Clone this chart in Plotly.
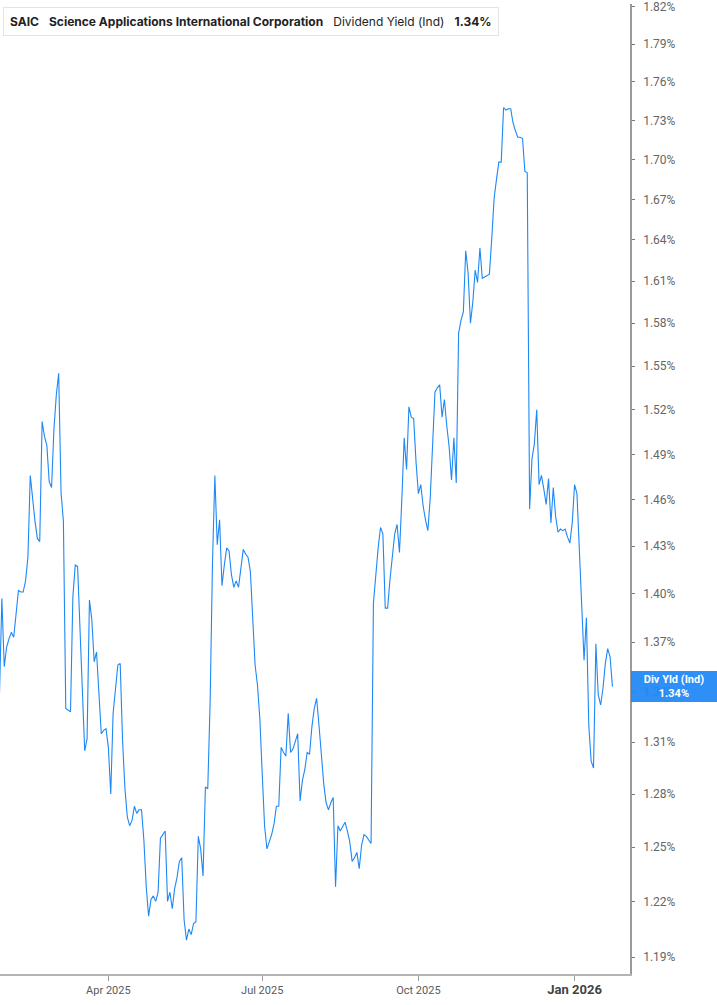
import math
import pandas as pd
import plotly.graph_objects as go

# ---- data ----
START_DATE = "2025-01-27"
END_DATE = "2026-01-23"

# one value per weekday (Mon..Fri), week by week
div_yield_pct = [
    1.339, 1.397, 1.355, 1.367, 1.372,   # Jan 27
    1.376, 1.373, 1.387, 1.402, 1.401,   # Feb 3
    1.401, 1.408, 1.423, 1.476, 1.459,   # Feb 10
    1.446, 1.435, 1.433, 1.512, 1.502,   # Feb 17
    1.496, 1.472, 1.468, 1.507, 1.530,   # Feb 24
    1.545, 1.465, 1.446, 1.330, 1.329,   # Mar 3
    1.328, 1.398, 1.418, 1.417, 1.380,   # Mar 10
    1.334, 1.305, 1.312, 1.396, 1.384,   # Mar 17
    1.358, 1.364, 1.338, 1.315, 1.317,   # Mar 24
    1.318, 1.307, 1.280, 1.327, 1.340,   # Mar 31
    1.356, 1.357, 1.311, 1.283, 1.267,   # Apr 7
    1.262, 1.265, 1.273, 1.269, 1.271,   # Apr 14
    1.271, 1.254, 1.228, 1.212, 1.221,   # Apr 21
    1.223, 1.220, 1.225, 1.255, 1.257,   # Apr 28
    1.259, 1.220, 1.225, 1.216, 1.227,   # May 5
    1.233, 1.242, 1.244, 1.210, 1.199,   # May 12
    1.205, 1.202, 1.208, 1.209, 1.256,   # May 19
    1.249, 1.234, 1.284, 1.283, 1.334,   # May 26
    1.420, 1.476, 1.431, 1.447, 1.405,   # Jun 2
    1.418, 1.429, 1.427, 1.412, 1.404,   # Jun 9
    1.408, 1.404, 1.417, 1.428, 1.425,   # Jun 16
    1.423, 1.414, 1.385, 1.356, 1.344,   # Jun 23
    1.324, 1.292, 1.262, 1.249, 1.253,   # Jun 30
    1.257, 1.263, 1.273, 1.273, 1.307,   # Jul 7
    1.304, 1.302, 1.327, 1.304, 1.306,   # Jul 14
    1.311, 1.315, 1.276, 1.288, 1.294,   # Jul 21
    1.304, 1.303, 1.319, 1.330, 1.336,   # Jul 28
    1.320, 1.303, 1.286, 1.275, 1.271,   # Aug 4
    1.275, 1.278, 1.228, 1.262, 1.259,   # Aug 11
    1.262, 1.264, 1.259, 1.253, 1.242,   # Aug 18
    1.244, 1.247, 1.238, 1.251, 1.257,   # Aug 25
    1.256, 1.254, 1.252, 1.394, 1.412,   # Sep 1
    1.429, 1.442, 1.438, 1.391, 1.391,   # Sep 8
    1.409, 1.426, 1.438, 1.444, 1.426,   # Sep 15
    1.460, 1.501, 1.480, 1.522, 1.515,   # Sep 22
    1.514, 1.485, 1.464, 1.470, 1.456,   # Sep 29
    1.447, 1.440, 1.461, 1.495, 1.532,   # Oct 6
    1.535, 1.537, 1.515, 1.527, 1.509,   # Oct 13
    1.495, 1.473, 1.501, 1.471, 1.573,   # Oct 20
    1.582, 1.588, 1.632, 1.616, 1.580,   # Oct 27
    1.595, 1.618, 1.609, 1.634, 1.612,   # Nov 3
    1.613, 1.614, 1.615, 1.641, 1.671,   # Nov 10
    1.685, 1.698, 1.698, 1.740, 1.738,   # Nov 17
    1.739, 1.739, 1.728, 1.722, 1.717,   # Nov 24
    1.717, 1.716, 1.691, 1.690, 1.454,   # Dec 1
    1.487, 1.497, 1.520, 1.470, 1.476,   # Dec 8
    1.467, 1.457, 1.474, 1.445, 1.468,   # Dec 15
    1.449, 1.439, 1.441, 1.440, 1.441,   # Dec 22
    1.436, 1.432, 1.445, 1.470, 1.464,   # Dec 29
    1.431, 1.395, 1.359, 1.385, 1.320,   # Jan 5
    1.299, 1.295, 1.369, 1.338, 1.332,   # Jan 12
    1.342, 1.357, 1.366, 1.361, 1.343,   # Jan 19
]

y_tick_values = [1.19, 1.22, 1.25, 1.28, 1.31, 1.34, 1.37, 1.40, 1.43, 1.46, 1.49,
                 1.52, 1.55, 1.58, 1.61, 1.64, 1.67, 1.70, 1.73, 1.76, 1.79, 1.82]
x_tick_dates = ["2025-04-01", "2025-07-01", "2025-10-01", "2026-01-01"]
x_tick_labels = ["Apr 2025", "Jul 2025", "Oct 2025",
                 "<span style='font-size:13px;color:#444444'><b>Jan 2026</b></span>"]

ticker = "SAIC"
company = "Science Applications International Corporation"
metric = "Dividend Yield (Ind)"
short_metric = "Div Yld (Ind)"
last_value = div_yield_pct[-1]

dates = pd.bdate_range(START_DATE, END_DATE)

LINE_BLUE = "#1e88f5"

fig = go.Figure()
fig.add_trace(go.Scatter(
    x=dates, y=div_yield_pct, mode="lines",
    line=dict(color=LINE_BLUE, width=1.1),
    hoverinfo="skip", showlegend=False,
))

fig.update_layout(
    width=717, height=1005,
    margin=dict(l=0, r=87, t=0, b=31),
    paper_bgcolor="white", plot_bgcolor="white",
    font=dict(family="Roboto, Arial, sans-serif", color="#555555"),
    showlegend=False,
    xaxis=dict(
        type="date",
        range=["2025-01-27 05:00", "2026-02-03 10:00"],
        rangebreaks=[dict(bounds=["sat", "mon"])],
        tickvals=x_tick_dates, ticktext=x_tick_labels,
        showgrid=False, zeroline=False,
        showline=True, linecolor="#b4b4b4", linewidth=2,
        ticks="outside", ticklen=5, tickcolor="#9a9a9a", tickwidth=1,
        tickfont=dict(size=11, color="#5a5a5a", family="Roboto, Arial, sans-serif"),
    ),
    yaxis=dict(
        type="log", side="right",
        range=[0.072258, 0.260651],
        tickvals=y_tick_values,
        ticktext=[f"{v:.2f}%" for v in y_tick_values],
        showgrid=False, zeroline=False,
        showline=True, linecolor="#9a9a9a", linewidth=1.5,
        ticks="outside", ticklen=3, tickcolor="#777777",
        ticklabelstandoff=6, ticklabeloverflow="allow",
        tickfont=dict(size=12, color="#666666", family="Roboto, Arial, sans-serif"),
    ),
)

# header box
fig.add_annotation(
    xref="paper", yref="paper", x=3 / 630, y=1 - 3 / 974,
    xanchor="left", yanchor="top",
    text=(f"<b>{ticker}</b>&nbsp;&nbsp;&nbsp;<b>{company}</b>&nbsp;&nbsp;&nbsp;"
          f"{metric}&nbsp;&nbsp;&nbsp;<b>{last_value:.2f}%</b>"),
    showarrow=False, align="left",
    font=dict(size=12, color="#222222", family="Inter, Roboto, Arial, sans-serif"),
    bgcolor="white", bordercolor="#e4e4e4", borderwidth=1, borderpad=6,
)
fig.add_shape(
    type="rect", xref="paper", yref="paper",
    x0=3 / 630, x1=6 / 630, y0=1 - 30 / 974, y1=1 - 5 / 974,
    fillcolor=LINE_BLUE, line=dict(width=0), layer="above",
)

# right-side last value label
fig.add_annotation(
    xref="paper", yref="y", x=1, y=math.log10(last_value),
    xanchor="left", yanchor="middle", xshift=1,
    text=f"<b>{short_metric}</b><br><b>{last_value:.2f}%</b>",
    showarrow=False, align="center",
    width=84, height=29,
    font=dict(size=11, color="white", family="Roboto, Arial, sans-serif"),
    bgcolor="rgba(30,136,245,0.93)", borderpad=1, borderwidth=0,
)

fig.write_html("out.html", config={"displayModeBar": False},
               post_script="document.body.style.margin='0';")
